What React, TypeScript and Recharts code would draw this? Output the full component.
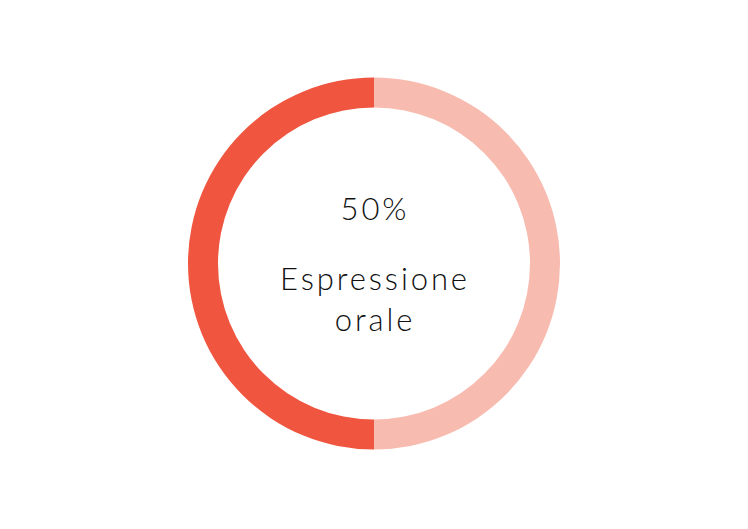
import { PieChart, Pie, Cell } from 'recharts'

// ─── Data ─────────────────────────────────────────────────────────────────────

const SEGMENTS = ['Espressione orale', 'Resto']
const VALUES = [50, 50]
const COLORS = ['#F0553F', '#F8BBB0']
const PERCENT_LABEL = '50%'
const CENTER_LINES = ['Espressione', 'orale']

const data = SEGMENTS.map((name, i) => ({ name, value: VALUES[i] }))

const textStyle = {
  fontFamily: 'Lato, "Open Sans", sans-serif',
  fontWeight: 300,
  fontSize: 31,
  letterSpacing: 2.9,
  fill: '#111111',
}

export default function App() {
  return (
    <div style={{ position: 'absolute', left: 0, top: 0, width: 748, height: 529, background: '#fff' }}>
      <PieChart width={748} height={529} margin={{ top: 0, right: 0, bottom: 0, left: 0 }}>
        <Pie
          data={data}
          dataKey="value"
          cx={374}
          cy={263.5}
          innerRadius={156}
          outerRadius={186}
          startAngle={90}
          endAngle={450}
          stroke="none"
          isAnimationActive={false}
        >
          {data.map((d, i) => (
            <Cell key={d.name} fill={COLORS[i]} />
          ))}
        </Pie>
        <text x={375} y={220} textAnchor="middle" style={textStyle}>
          {PERCENT_LABEL}
        </text>
        {CENTER_LINES.map((line, i) => (
          <text key={line} x={375} y={290 + i * 41} textAnchor="middle" style={textStyle}>
            {line}
          </text>
        ))}
      </PieChart>
    </div>
  )
}
